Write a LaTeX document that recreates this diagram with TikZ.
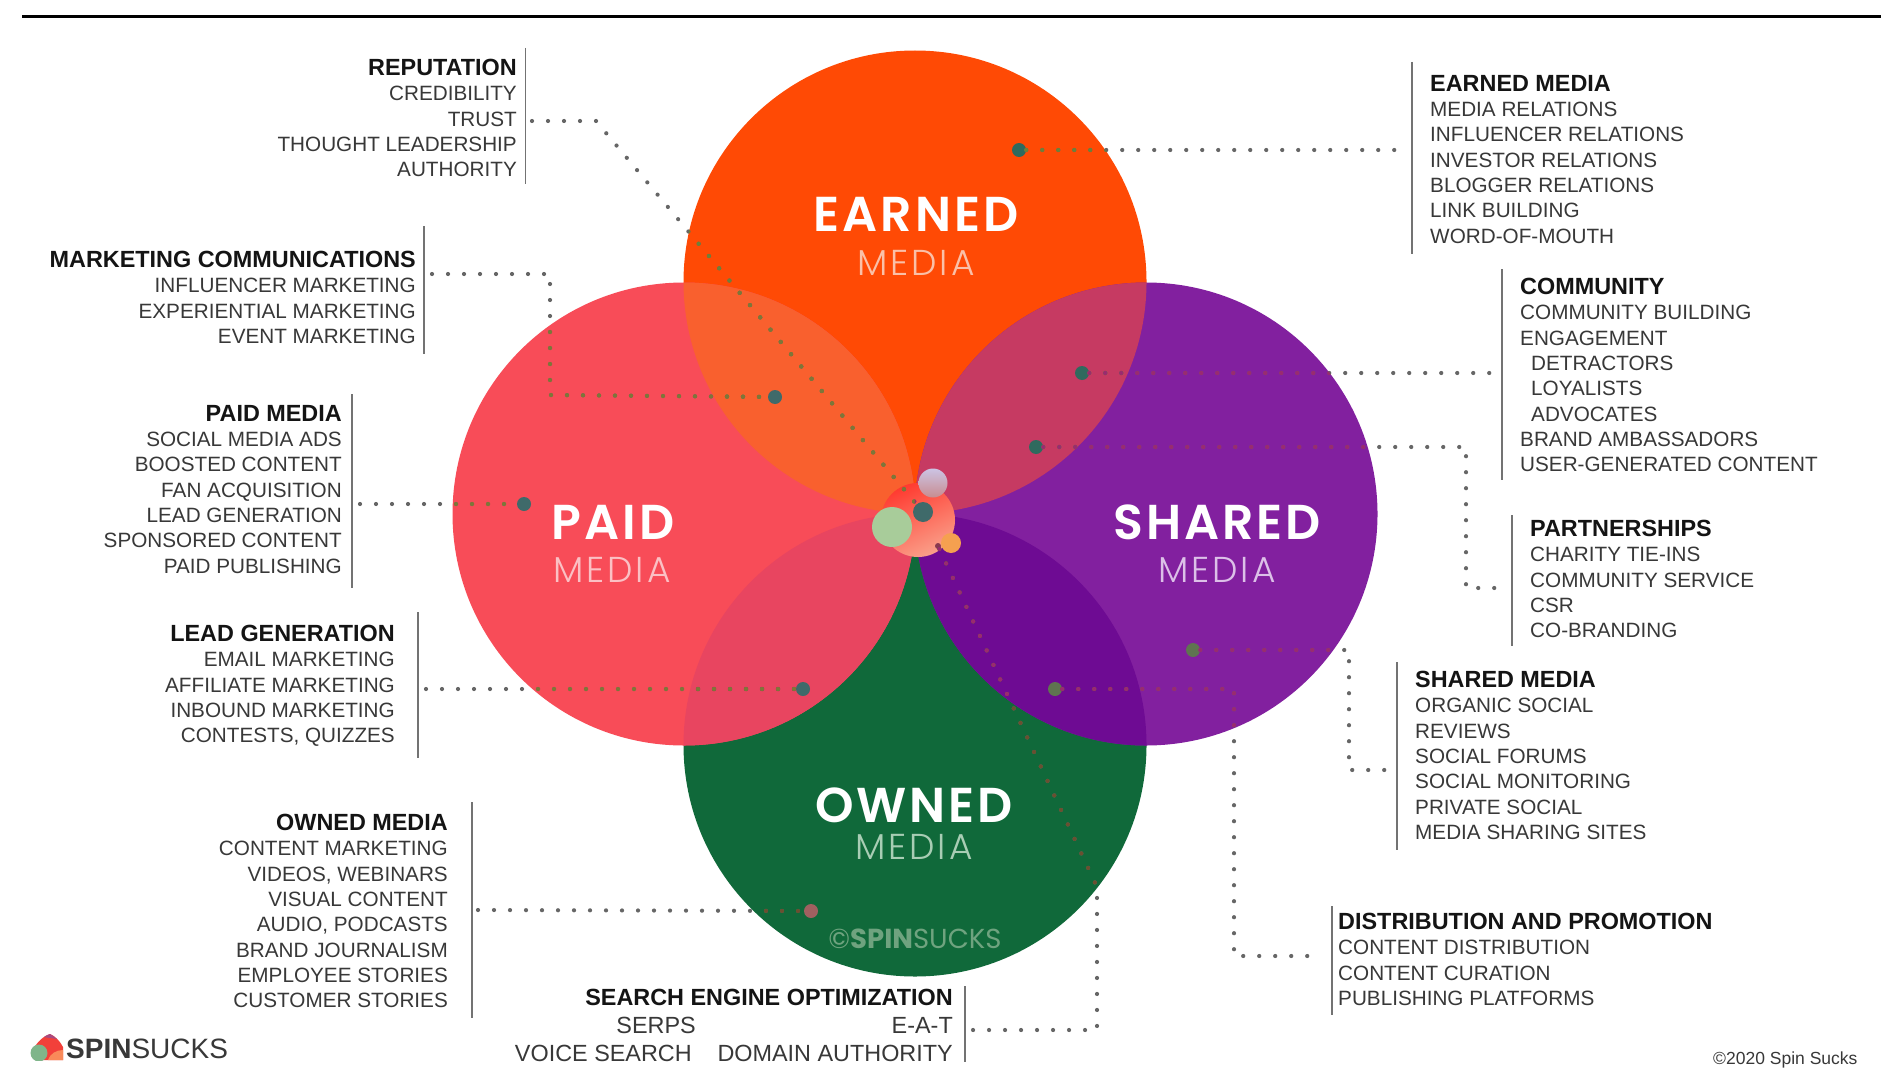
\documentclass[tikz,border=0pt]{standalone}
\usepackage{fontspec}
\setmainfont{Liberation Sans}
\newfontfamily\pop{Poppins}
\newfontfamily\popsemi[LetterSpace=6]{Poppins SemiBold}
\newfontfamily\poplight[LetterSpace=8]{Poppins Light}
\definecolor{cEarned}{HTML}{FF4A05}
\definecolor{cPaid}{HTML}{F84C58}
\definecolor{cShared}{HTML}{82209F}
\definecolor{cOwned}{HTML}{10693A}
\definecolor{cEP}{HTML}{F9602E}
\definecolor{cES}{HTML}{C63A62}
\definecolor{cPO}{HTML}{E84560}
\definecolor{cSO}{HTML}{6E0B93}
\definecolor{cDot}{HTML}{2F6A5E}
\definecolor{cDotO}{HTML}{A06060}
\definecolor{cDotC}{HTML}{3F6A6A}
\definecolor{cDotS}{HTML}{8A3A50}
\definecolor{cDotD}{HTML}{5F7450}
\definecolor{cBlobT}{HTML}{FF3A30}
\definecolor{cBlobB}{HTML}{FAA08A}
\definecolor{cBlobG}{HTML}{A8CC9A}
\definecolor{cBlobO}{HTML}{F5A050}
\definecolor{cLavT}{HTML}{CCC4E4}
\definecolor{cLavB}{HTML}{C88C90}
\definecolor{cME}{HTML}{FAC0A8}
\definecolor{cMP}{HTML}{FBC0C4}
\definecolor{cMS}{HTML}{DCC0E8}
\definecolor{cMO}{HTML}{A8CDB4}
\definecolor{cWm}{HTML}{6FA37F}
\definecolor{cLogoG}{HTML}{7FB58A}
\definecolor{cLogoR}{HTML}{F2403A}
\definecolor{cLogoO}{HTML}{F98A5A}
\definecolor{cLogoP}{HTML}{A84A80}
\definecolor{cInE}{HTML}{6E8038}
\definecolor{cInP}{HTML}{7E7638}
\definecolor{cInS}{HTML}{9A2A70}
\definecolor{cInO}{HTML}{6A5030}
\tikzset{
  petal/.style={circle,minimum size=463pt,inner sep=0pt,fill=#1},
  txtblock/.style={inner sep=0pt,text=black!78,font=\fontsize{20.7}{25.3}\selectfont},
  lblock/.style={txtblock,anchor=north west,align=left},
  rblock/.style={txtblock,anchor=north east,align=right},
  seoline/.style={inner sep=0pt,text=black!78,font=\fontsize{23.4}{25.3}\selectfont,anchor=base east},
  rulebar/.style={draw=black!55,line width=1.3pt},
  dotbase/.style={line width=4.2pt,line cap=round,dash pattern=on 0pt off 16pt},
  dotline/.style={dotbase,draw=black!60},
  dotmark/.style={circle,minimum size=14pt,inner sep=0pt,fill=#1},
  bigword/.style={text=white,font=\popsemi\fontsize{49}{49}\selectfont},
  medword/.style={text=#1,font=\poplight\fontsize{36}{36}\selectfont},
}
\newcommand{\ttl}[1]{{\fontsize{23.4}{25.3}\selectfont\textbf{\textcolor{black!92}{#1}}}}
\newcommand{\allconns}{%
\draw[dotline] (repA) -- (repB) -- (dRep);
\draw[dotline] (mkA) -- (mkB) -- (mkC) -- (dMarket);
\draw[dotline] (paA) -- (dPaid);
\draw[dotline] (leA) -- (dLead);
\draw[dotline] (owA) -- (dOwned);
\draw[dotline] (dEarned) -- (eaA);
\draw[dotline] (dComm) -- (coA);
\draw[dotline] (dPart) -- (ptA) -- (ptB) -- (ptC);
\draw[dotline] (dShared) -- (shA) -- (shB) -- (shC);
\draw[dotline] (dDist) -- (diA) -- (diB) -- (diC);
\draw[dotline] (dSeo) -- (seA) -- (seB) -- (seC);
}
\begin{document}
\begin{tikzpicture}[x=1pt,y=-1pt]
\useasboundingbox (0,0) rectangle (1881,1070);
\fill[white] (0,0) rectangle (1881,1070);
\draw[black,line width=3pt] (22,16.5) -- (1881,16.5);

% petals
\node[petal=cOwned] (owned) at (915,745) {};
\node[petal=cEarned] (earned) at (915,282) {};
\node[petal=cPaid] (paid) at (684,514) {};
\node[petal=cShared] (shared) at (1146,514) {};
% overlaps
\begin{scope}\clip (684,514) circle (231.5);\fill[cEP] (915,282) circle (231.5);\end{scope}
\begin{scope}\clip (1146,514) circle (231.5);\fill[cES] (915,282) circle (231.5);\end{scope}
\begin{scope}\clip (684,514) circle (231.5);\fill[cPO] (915,745) circle (231.5);\end{scope}
\begin{scope}\clip (1146,514) circle (231.5);\fill[cSO] (915,745) circle (231.5);\end{scope}

% centre
\shade[top color=cBlobT,bottom color=cBlobB,shading angle=25] (918,520) circle (37);
\node[circle,minimum size=40pt,inner sep=0pt,fill=cBlobG] (cgreen) at (892,527) {};
\shade[top color=cLavT,bottom color=cLavB] (933,483) circle (14.5);
\node[circle,minimum size=20pt,inner sep=0pt,fill=cBlobO] (corange) at (951,543) {};

% marker dots
\node[dotmark=cDot] (dEarned) at (1019,150) {};
\node[dotmark=cDotC] (dMarket) at (775,397) {};
\node[dotmark=cDotC] (dPaid) at (524,504) {};
\node[dotmark=cDotC] (dLead) at (803,689) {};
\node[dotmark=cDotO] (dOwned) at (811,911) {};
\node[dotmark=cDot] (dComm) at (1082,373) {};
\node[dotmark=cDot] (dPart) at (1036,447) {};
\node[dotmark=cDotD] (dShared) at (1193,650) {};
\node[dotmark=cDotD] (dDist) at (1055,689) {};
\node[dotmark=cDotC,minimum size=20pt] (dRep) at (923,512) {};
\node[circle,minimum size=6pt,inner sep=0pt,fill=cDotS] (dSeo) at (938,546) {};

% bends and free ends
\coordinate (repA) at (532,121); \coordinate (repB) at (596,121);
\coordinate (mkA) at (432,274); \coordinate (mkB) at (550,274); \coordinate (mkC) at (550,395);
\coordinate (paA) at (360,504);
\coordinate (leA) at (426,689);
\coordinate (owA) at (478,910);
\coordinate (eaA) at (1398,150);
\coordinate (coA) at (1490,373);
\coordinate (ptA) at (1466,447); \coordinate (ptB) at (1466,588); \coordinate (ptC) at (1500,588);
\coordinate (shA) at (1349,650); \coordinate (shB) at (1349,770); \coordinate (shC) at (1386,770);
\coordinate (diA) at (1234,689); \coordinate (diB) at (1234,956); \coordinate (diC) at (1316,956);
\coordinate (seA) at (1097,887); \coordinate (seB) at (1097,1030); \coordinate (seC) at (971,1030);

% connectors: grey on the page, tinted where they cross a petal
\allconns
\begin{scope}\clip (915,745) circle (231.5);\tikzset{dotline/.style={dotbase,draw=cInO}}\allconns\end{scope}
\begin{scope}\clip (915,282) circle (231.5);\tikzset{dotline/.style={dotbase,draw=cInE}}\allconns\end{scope}
\begin{scope}\clip (684,514) circle (231.5);\tikzset{dotline/.style={dotbase,draw=cInP}}\allconns\end{scope}
\begin{scope}\clip (1146,514) circle (231.5);\tikzset{dotline/.style={dotbase,draw=cInS}}\allconns\end{scope}

% petal words
\node[bigword] (tE) at (916,214) {EARNED};
\node[medword=cME] (mE) at (916,263) {MEDIA};
\node[bigword] (tP) at (613,522) {PAID};
\node[medword=cMP] (mP) at (612,570) {MEDIA};
\node[bigword] (tS) at (1217,522) {SHARED};
\node[medword=cMS] (mS) at (1217,570) {MEDIA};
\node[bigword] (tO) at (914,805) {OWNED};
\node[medword=cMO] (mO) at (914,847) {MEDIA};
\node[text=cWm,font=\pop\fontsize{27.5}{27.5}\selectfont] (wm) at (915,939) {©\textbf{SPIN}SUCKS};

% left blocks
\draw[rulebar] (525.5,48) -- (525.5,184);
\node[rblock] (bRep) at (517,59) {\ttl{REPUTATION}\\CREDIBILITY\\TRUST\\THOUGHT LEADERSHIP\\AUTHORITY};
\draw[rulebar] (424,226) -- (424,354);
\node[rblock] (bMkt) at (416,251) {\ttl{MARKETING COMMUNICATIONS}\\INFLUENCER MARKETING\\EXPERIENTIAL MARKETING\\EVENT MARKETING};
\draw[rulebar] (352,394) -- (352,588);
\node[rblock] (bPaid) at (342,405) {\ttl{PAID MEDIA}\\SOCIAL MEDIA ADS\\BOOSTED CONTENT\\FAN ACQUISITION\\LEAD GENERATION\\SPONSORED CONTENT\\PAID PUBLISHING};
\draw[rulebar] (418,612) -- (418,758);
\node[rblock] (bLead) at (395,625) {\ttl{LEAD GENERATION}\\EMAIL MARKETING\\AFFILIATE MARKETING\\INBOUND MARKETING\\CONTESTS, QUIZZES};
\draw[rulebar] (472,802) -- (472,1018);
\node[rblock] (bOwn) at (448,814) {\ttl{OWNED MEDIA}\\CONTENT MARKETING\\VIDEOS, WEBINARS\\VISUAL CONTENT\\AUDIO, PODCASTS\\BRAND JOURNALISM\\EMPLOYEE STORIES\\CUSTOMER STORIES};

% SEO block
\draw[rulebar] (965,986) -- (965,1062);
\node[seoline] (sT) at (953,1005) {\ttl{SEARCH ENGINE OPTIMIZATION}};
\node[seoline] (s1) at (696,1033) {SERPS};
\node[seoline] (s2) at (953,1033) {E-A-T};
\node[seoline] (s3) at (692,1061) {VOICE SEARCH};
\node[seoline] (s4) at (953,1061) {DOMAIN AUTHORITY};

% right blocks
\draw[rulebar] (1412,62) -- (1412,254);
\node[lblock] (bEar) at (1430,75) {\ttl{EARNED MEDIA}\\MEDIA RELATIONS\\INFLUENCER RELATIONS\\INVESTOR RELATIONS\\BLOGGER RELATIONS\\LINK BUILDING\\WORD-OF-MOUTH};
\draw[rulebar] (1502,269) -- (1502,480);
\node[lblock] (bCom) at (1520,278) {\ttl{COMMUNITY}\\COMMUNITY BUILDING\\ENGAGEMENT\\\hspace*{11pt}DETRACTORS\\\hspace*{11pt}LOYALISTS\\\hspace*{11pt}ADVOCATES\\BRAND AMBASSADORS\\USER-GENERATED CONTENT};
\draw[rulebar] (1512,515) -- (1512,646);
\node[lblock] (bPar) at (1530,520) {\ttl{PARTNERSHIPS}\\CHARITY TIE-INS\\COMMUNITY SERVICE\\CSR\\CO-BRANDING};
\draw[rulebar] (1397,662) -- (1397,850);
\node[lblock] (bSha) at (1415,671) {\ttl{SHARED MEDIA}\\ORGANIC SOCIAL\\REVIEWS\\SOCIAL FORUMS\\SOCIAL MONITORING\\PRIVATE SOCIAL\\MEDIA SHARING SITES};
\draw[rulebar] (1332,906) -- (1332,1015);
\node[lblock] (bDis) at (1338,913) {\ttl{DISTRIBUTION AND PROMOTION}\\CONTENT DISTRIBUTION\\CONTENT CURATION\\PUBLISHING PLATFORMS};

% logo
\fill[cLogoR] (32,1052) .. controls (37,1041) and (44,1036) .. (50,1034) .. controls (55,1036) and (60,1041) .. (63,1047) -- (63,1060) -- (38,1060) -- cycle;
\fill[cLogoP] (44,1037) .. controls (47,1035) and (49,1034) .. (50,1034) .. controls (52,1035) and (55,1037) .. (57,1039) .. controls (52,1038) and (48,1038) .. (44,1037) -- cycle;
\fill[cLogoO] (48,1060) .. controls (50,1054) and (56,1050) .. (63,1050) -- (63,1060) -- cycle;
\begin{scope}\clip (28,1040) rectangle (63,1060);\fill[cLogoG] (39,1053) circle (8.5);\end{scope}
\node[anchor=base west,inner sep=0pt,text=black!78,font=\fontsize{28}{28}\selectfont] (logo) at (66,1058) {\textbf{SPIN}SUCKS};
\node[anchor=base west,inner sep=0pt,text=black!78,font=\fontsize{17.5}{18}\selectfont] (copy) at (1713,1064) {©2020 Spin Sucks};
\end{tikzpicture}
\end{document}
